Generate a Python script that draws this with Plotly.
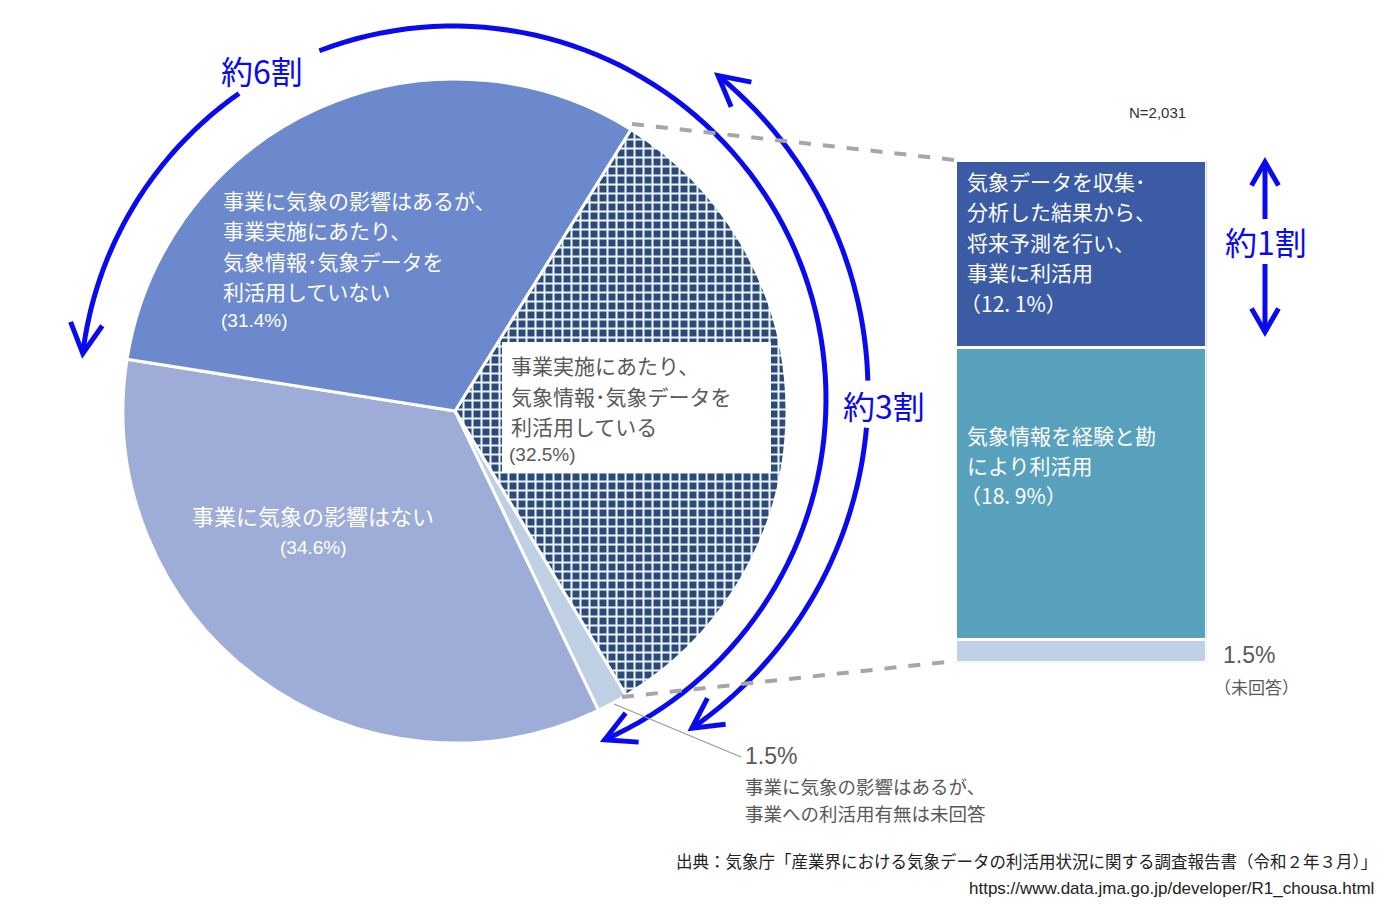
import numpy as np
import plotly.graph_objects as go

W, H = 1388, 907

# ---------------- data ----------------
pie_labels = [
    "事業実施にあたり、気象情報･気象データを利活用している",
    "事業に気象の影響はあるが、事業への利活用有無は未回答",
    "事業に気象の影響はない",
    "事業に気象の影響はあるが、事業実施にあたり、気象情報･気象データを利活用していない",
]
pie_values = [32.5, 1.5, 34.6, 31.4]
pie_colors = ["#2b4a75", "#bfcfe4", "#9eadd7", "#6d89cd"]
pie_patterns = ["+", "", "", ""]
pie_pattern_fg = ["#eef4ff", "#bfcfe4", "#9eadd7", "#6d89cd"]

bar_labels = ["未回答", "気象情報を経験と勘により利活用",
              "気象データを収集・分析した結果から、将来予測を行い、事業に利活用"]
bar_values = [1.5, 18.9, 12.1]
bar_colors = ["#c0d0e6", "#58a1bd", "#3b5ca5"]

JP = "Noto Sans CJK JP"
NARROW = "Liberation Sans Narrow, Liberation Sans, sans-serif"
BLUE = "#0a0af0"
GRAY_TXT = "#595959"


def fx(x):
    return x / W


def fy(y):
    return 1 - y / H


fig = go.Figure()

# pie
PCX, PCY, PR = 455, 411, 332
fig.add_trace(go.Pie(
    values=pie_values, labels=pie_labels, sort=False, direction="clockwise",
    rotation=32, textinfo="none", showlegend=False,
    marker=dict(colors=pie_colors, line=dict(color="white", width=3),
                pattern=dict(shape=pie_patterns, fgcolor=pie_pattern_fg,
                             bgcolor=pie_colors, fillmode="replace",
                             size=9, solidity=0.4)),
    domain=dict(x=[fx(PCX - PR), fx(PCX + PR)], y=[fy(PCY + PR), fy(PCY - PR)]),
))

# stacked bar
for lab, v, c in zip(bar_labels, bar_values, bar_colors):
    fig.add_trace(go.Bar(x=[0], y=[v], name=lab, width=1, showlegend=False,
                         marker=dict(color=c, line=dict(color="white", width=3)),
                         xaxis="x", yaxis="y"))

fig.update_layout(
    barmode="stack",
    width=W, height=H,
    margin=dict(l=0, r=0, t=0, b=0),
    paper_bgcolor="white", plot_bgcolor="rgba(0,0,0,0)",
    xaxis=dict(domain=[fx(955.5), fx(1206.5)], range=[-0.5, 0.5], visible=False, fixedrange=True),
    yaxis=dict(domain=[fy(662.5), fy(160.5)], range=[0, sum(bar_values)], visible=False, fixedrange=True),
)

shapes = []
annos = []


def path_of(xs, ys):
    return "M " + " L ".join(f"{fx(x):.5f},{fy(y):.5f}" for x, y in zip(xs, ys))


def arc(cx, cy, r, t0, t1, n=90):
    t = np.radians(np.linspace(t0, t1, n))
    return cx + r * np.sin(t), cy - r * np.cos(t)


def arrow_head(tip, d, L=34, half=28):
    d = np.array(d, float)
    d /= np.linalg.norm(d)
    pts = []
    for s in (half, -half):
        a = np.radians(s)
        back = -d
        rx = back[0] * np.cos(a) - back[1] * np.sin(a)
        ry = back[0] * np.sin(a) + back[1] * np.cos(a)
        pts.append((tip[0] + L * rx, tip[1] + L * ry))
    xs = [pts[0][0], tip[0], pts[1][0]]
    ys = [pts[0][1], tip[1], pts[1][1]]
    return path_of(xs, ys)


def add_path(p, color=BLUE, width=5):
    shapes.append(dict(type="path", xref="paper", yref="paper", path=p,
                       line=dict(color=color, width=width), layer="above"))


# arc "約6割"
ACX, ACY, AR = 453, 399, 373
for t0, t1 in [(-83, -35), (-21, 156)]:
    xs, ys = arc(ACX, ACY, AR, t0, t1)
    add_path(path_of(xs, ys))
t = np.radians(-83)
add_path(arrow_head((ACX + AR * np.sin(t), ACY - AR * np.cos(t)), (-np.cos(t), -np.sin(t))))
t = np.radians(156)
add_path(arrow_head((ACX + AR * np.sin(t), ACY - AR * np.cos(t)), (np.cos(t), np.sin(t))))

# arc "約3割"
BCX, BCY, BR = 459, 392, 409
for t0, t1 in [(39.3, 88.4), (95, 145.3)]:
    xs, ys = arc(BCX, BCY, BR, t0, t1)
    add_path(path_of(xs, ys))
t = np.radians(39.3)
add_path(arrow_head((BCX + BR * np.sin(t), BCY - BR * np.cos(t)), (-np.cos(t), -np.sin(t))))
t = np.radians(145.3)
add_path(arrow_head((BCX + BR * np.sin(t), BCY - BR * np.cos(t)), (np.cos(t), np.sin(t))))

# "約1割" double arrow
add_path(path_of([1265, 1265], [165, 219]))
add_path(path_of([1265, 1265], [264, 330]))
add_path(arrow_head((1265, 162), (0, -1), L=27, half=30))
add_path(arrow_head((1265, 332), (0, 1), L=27, half=30))

# dashed connectors
for (x0, y0), (x1, y1) in [((632, 124), (955, 160)), ((622, 697), (955, 661))]:
    shapes.append(dict(type="line", xref="paper", yref="paper",
                       x0=fx(x0), y0=fy(y0), x1=fx(x1), y1=fy(y1),
                       line=dict(color="#a6a6a6", width=4, dash="dash"), layer="above"))

# leader line for 1.5%
shapes.append(dict(type="line", xref="paper", yref="paper",
                   x0=fx(614), y0=fy(704), x1=fx(741), y1=fy(757),
                   line=dict(color="#9a9a9a", width=1.3), layer="above"))

# white label box in hatched slice
shapes.append(dict(type="rect", xref="paper", yref="paper",
                   x0=fx(502), x1=fx(771), y0=fy(342), y1=fy(473),
                   fillcolor="white", line=dict(width=0), layer="above"))


def txt(x, y, s, size, color, xanchor="left", font=JP):
    annos.append(dict(x=fx(x), y=fy(y), xref="paper", yref="paper", text=s,
                      showarrow=False, xanchor=xanchor, yanchor="middle",
                      font=dict(size=size, color=color, family=font)))


def block(x, y_first, lines, size, color, step):
    for i, s in enumerate(lines):
        txt(x, y_first + i * step, s, size, color)


# pie slice labels
block(221, 199.75, ["事業に気象の影響はあるが、", "事業実施にあたり、", "気象情報･気象データを", "利活用していない"],
      21, "white", 30.5)
txt(219, 320, "(31.4%)", 19, "white", font=NARROW)
txt(313, 515, "事業に気象の影響はない", 22, "white", "center")
txt(313, 547, "(34.6%)", 19, "white", "center", font=NARROW)
block(509, 365.5, ["事業実施にあたり、", "気象情報･気象データを", "利活用している"], 21, GRAY_TXT, 30.5)
txt(507, 455, "(32.5%)", 19, GRAY_TXT, font=NARROW)

# bar labels
block(965, 180.5, ["気象データを収集･", "分析した結果から、", "将来予測を行い、", "事業に利活用"], 21, "white", 30.5)
txt(958, 302.5, "（12. 1%）", 21, "white")
block(965, 434.5, ["気象情報を経験と勘", "により利活用"], 21, "white", 30.5)
txt(958, 495.5, "（18. 9%）", 21, "white")
txt(1221, 655, "1.5%", 23, GRAY_TXT, font=NARROW)
txt(1212, 686, "（未回答）", 17, GRAY_TXT)

# 1.5% leader label
txt(743, 756, "1.5%", 23, GRAY_TXT, font=NARROW)
block(743, 786, ["事業に気象の影響はあるが、", "事業への利活用有無は未回答"], 18.5, GRAY_TXT, 27)

# blue labels
txt(262, 70, "約6割", 32, BLUE, "center")
txt(884, 405, "約3割", 32, BLUE, "center")
txt(1266, 241, "約1割", 32, BLUE, "center")

# N and source
txt(1157, 113, "N=2,031", 15, "#333333", "center", font="Liberation Sans")
txt(1379, 861, "出典：気象庁「産業界における気象データの利活用状況に関する調査報告書（令和２年３月）」",
    16.5, "#222222", "right")
txt(1376, 888, "https://www.data.jma.go.jp/developer/R1_chousa.html", 17, "#222222", "right",
    font=NARROW)

fig.update_layout(shapes=shapes, annotations=annos)

fig.write_html("out.html", post_script="document.body.style.margin='0';",
               config={"displayModeBar": False})
